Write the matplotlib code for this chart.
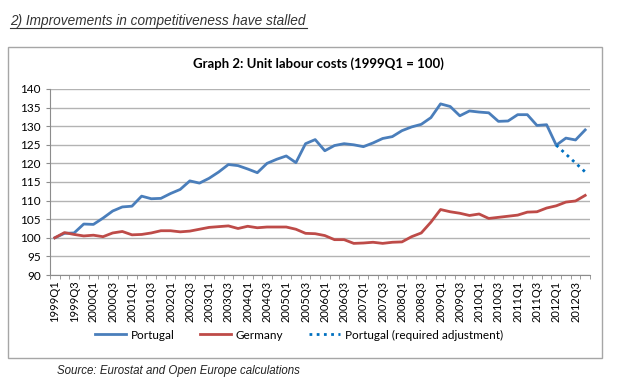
import matplotlib.pyplot as plt
from matplotlib.patches import Rectangle
from matplotlib.lines import Line2D

# quarterly data 1999Q1 .. 2012Q4, index 1999Q1 = 100
quarters = [f"{y}Q{q}" for y in range(1999, 2013) for q in range(1, 5)]

portugal = [100.0, 101.2, 101.3, 103.7, 103.6, 105.3, 107.2, 108.3,
            108.5, 111.2, 110.5, 110.6, 111.9, 113.0, 115.3, 114.7,
            116.0, 117.7, 119.7, 119.4, 118.5, 117.5, 120.0, 121.1,
            122.0, 120.2, 125.3, 126.4, 123.4, 124.8, 125.3, 125.0,
            124.5, 125.5, 126.7, 127.2, 128.8, 129.8, 130.5, 132.3,
            136.0, 135.3, 132.8, 134.1, 133.8, 133.6, 131.3, 131.4,
            133.1, 133.1, 130.2, 130.4, 124.9, 126.8, 126.3, 129.0]

germany = [100.0, 101.4, 100.9, 100.5, 100.7, 100.3, 101.3, 101.7,
           100.8, 100.9, 101.3, 101.9, 101.9, 101.6, 101.8, 102.3,
           102.8, 103.0, 103.2, 102.5, 103.1, 102.7, 102.9, 102.9,
           102.9, 102.3, 101.2, 101.1, 100.6, 99.5, 99.5, 98.5,
           98.6, 98.8, 98.5, 98.8, 98.9, 100.3, 101.3, 104.2,
           107.6, 107.0, 106.6, 106.0, 106.4, 105.2, 105.5, 105.8,
           106.1, 106.9, 107.0, 108.0, 108.6, 109.6, 109.9, 111.4]

# required adjustment path, 2012Q1 .. 2012Q4
adj_quarters = ["2012Q1", "2012Q2", "2012Q3", "2012Q4"]
adjustment = [124.9, 122.5, 120.1, 117.7]

blue = "#4a7ebb"
red = "#be4b48"

fig = plt.figure(figsize=(6.2, 3.88), dpi=100)
ax = fig.add_axes([50 / 620, 1 - 275 / 388, 540 / 620, 186 / 388])

x = list(range(len(quarters)))
xa = [quarters.index(q) for q in adj_quarters]
ax.plot(x, portugal, color=blue, lw=2.0, label="Portugal")
ax.plot(x, germany, color=red, lw=2.0, label="Germany")
ax.plot(xa, adjustment, color="#0070c0", lw=2.0, ls=(0, (1, 1.6)),
        label="Portugal (required adjustment)")

ax.set_ylim(90, 140)
ax.set_yticks(range(90, 141, 5))
ax.set_xlim(-0.5, len(quarters) - 0.5)
ax.set_xticks(x[::2])
ax.set_xticklabels(quarters[::2], rotation=90, fontsize=8, family="Lato")
ax.set_xticks([i - 0.5 for i in range(len(quarters) + 1)], minor=True)
ax.tick_params(axis="x", which="major", length=0, pad=4)
ax.tick_params(axis="x", which="minor", length=3, color="#8c8c8c")
ax.tick_params(axis="y", length=3, color="#8c8c8c", labelsize=8.5)
for lab in ax.get_yticklabels():
    lab.set_family("Lato")

ax.grid(axis="y", color="#b3b3b3", lw=1)
ax.set_axisbelow(True)
for s in ["top", "right"]:
    ax.spines[s].set_visible(False)
ax.spines["left"].set_color("#8c8c8c")
ax.spines["bottom"].set_color("#8c8c8c")

# chart frame
fig.patches.append(Rectangle((8 / 620, 1 - 358 / 388), 594 / 620, 311 / 388,
                             transform=fig.transFigure, fill=False,
                             edgecolor="#a6a6a6", lw=1))

fig.text(318 / 620, 1 - 64 / 388, "Graph 2: Unit labour costs (1999Q1 = 100)",
         ha="center", va="center", fontsize=9.5, fontweight="bold", family="Lato")

fig.text(10 / 620, 1 - 21 / 388, "2) Improvements in competitiveness have stalled",
         ha="left", va="center", fontsize=9.8, style="italic",
         family="Liberation Sans", color="#333333")
fig.add_artist(Line2D([10 / 620, 307 / 620], [1 - 28 / 388, 1 - 28 / 388],
                      color="#333333", lw=0.8))

fig.text(57 / 620, 1 - 371 / 388, "Source: Eurostat and Open Europe calculations",
         ha="left", va="center", fontsize=8.3, style="italic",
         family="Liberation Sans", color="#222222")

fig.legend(loc="center", bbox_to_anchor=(299 / 620, 1 - 335 / 388), ncol=3,
           frameon=False, prop={"family": "Lato", "size": 8.5},
           handlelength=2.6, columnspacing=2.2, handletextpad=0.4)

fig.savefig("out.png", dpi=100)
